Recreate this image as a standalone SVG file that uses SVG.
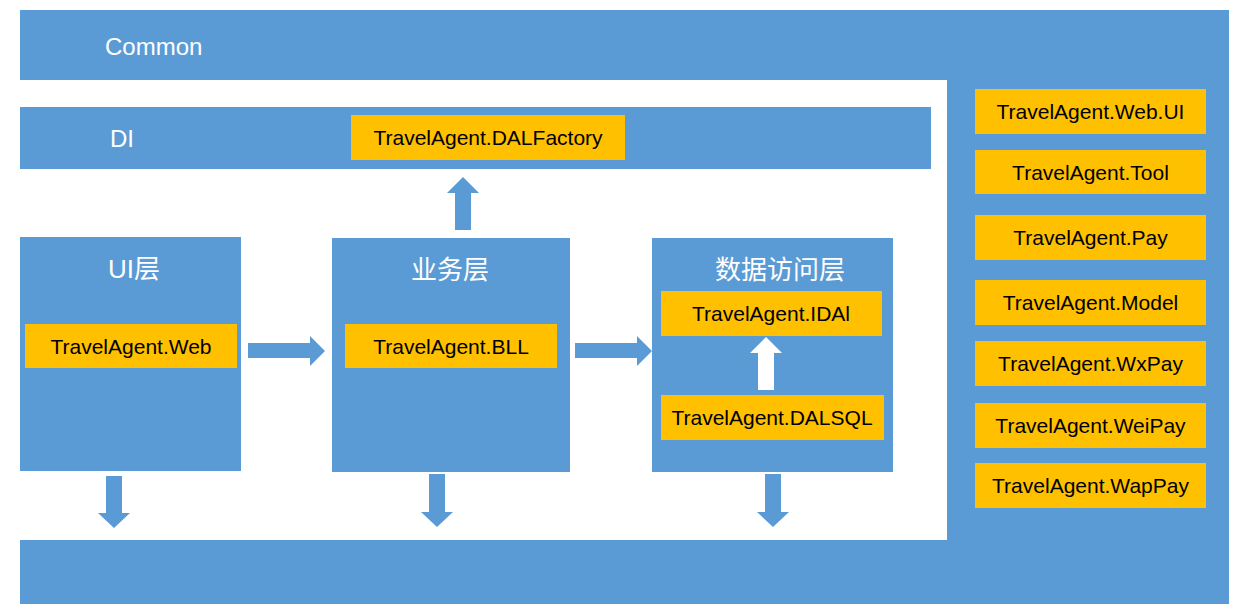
<svg xmlns="http://www.w3.org/2000/svg" width="1247" height="616" viewBox="0 0 1247 616">
<style>
.blue{fill:#5B9BD5}
.yel{fill:#FFC000}
.t{font-family:"Liberation Sans",Arial,sans-serif;font-size:21px;fill:#000;text-anchor:middle}
.w{font-family:"Liberation Sans","Noto Sans CJK SC",sans-serif;font-size:24px;fill:#fff}
.wc{font-family:"Liberation Sans","Noto Sans CJK SC",sans-serif;font-size:26px;fill:#fff;text-anchor:middle}
</style>
<rect width="1247" height="616" fill="#fff"/>
<g id="common">
<path class="blue" d="M20,10 H1229 V604 H20 V540 H947 V80 H20 Z"/>
<text class="w" x="105" y="55">Common</text>
</g>
<g id="di">
<rect class="blue" x="20" y="107" width="911" height="62"/>
<text class="w" x="110" y="147">DI</text>
</g>
<g id="dalfactory">
<rect class="yel" x="351" y="115" width="274" height="45"/>
<text class="t" x="488" y="145">TravelAgent.DALFactory</text>
</g>
<g id="ui-layer">
<rect class="blue" x="20" y="237" width="221" height="234"/>
<text class="wc" x="134" y="278">UI层</text>
</g>
<g id="web">
<rect class="yel" x="25" y="324" width="212" height="44"/>
<text class="t" x="131" y="354">TravelAgent.Web</text>
</g>
<g id="bll-layer">
<rect class="blue" x="332" y="238" width="238" height="234"/>
<text class="wc" x="450" y="279">业务层</text>
</g>
<g id="bll">
<rect class="yel" x="345" y="324" width="212" height="44"/>
<text class="t" x="451" y="354">TravelAgent.BLL</text>
</g>
<g id="dal-layer">
<rect class="blue" x="652" y="238" width="241" height="234"/>
<text class="wc" x="780" y="279">数据访问层</text>
</g>
<g id="idal">
<rect class="yel" x="661" y="291" width="221" height="45"/>
<text class="t" x="771" y="321">TravelAgent.IDAl</text>
</g>
<g id="dalsql">
<rect class="yel" x="661" y="395" width="223" height="45"/>
<text class="t" x="772" y="425">TravelAgent.DALSQL</text>
</g>
<g id="webui">
<rect class="yel" x="975" y="89" width="231" height="45"/>
<text class="t" x="1090.5" y="119">TravelAgent.Web.UI</text>
</g>
<g id="tool">
<rect class="yel" x="975" y="150" width="231" height="44"/>
<text class="t" x="1090.5" y="180">TravelAgent.Tool</text>
</g>
<g id="pay">
<rect class="yel" x="975" y="215" width="231" height="45"/>
<text class="t" x="1090.5" y="245">TravelAgent.Pay</text>
</g>
<g id="model">
<rect class="yel" x="975" y="280" width="231" height="45"/>
<text class="t" x="1090.5" y="310">TravelAgent.Model</text>
</g>
<g id="wxpay">
<rect class="yel" x="975" y="341" width="231" height="45"/>
<text class="t" x="1090.5" y="371">TravelAgent.WxPay</text>
</g>
<g id="weipay">
<rect class="yel" x="975" y="403" width="231" height="45"/>
<text class="t" x="1090.5" y="433">TravelAgent.WeiPay</text>
</g>
<g id="wappay">
<rect class="yel" x="975" y="463" width="231" height="45"/>
<text class="t" x="1090.5" y="493">TravelAgent.WapPay</text>
</g>
<g id="connectors">
<polygon class="blue" points="463,177 479,193 471,193 471,230 455,230 455,193 447,193"/>
<polygon class="blue" points="248,343 310,343 310,336 325,351 310,366 310,358 248,358"/>
<polygon class="blue" points="575,343 637,343 637,336 652,351 637,366 637,358 575,358"/>
<polygon class="blue" points="106,476 122,476 122,513 130,513 114,528 98,513 106,513"/>
<polygon class="blue" points="429,474 445,474 445,512 453,512 437,527 421,512 429,512"/>
<polygon class="blue" points="765,474 781,474 781,512 789,512 773,527 757,512 765,512"/>
<polygon fill="#fff" points="766,337 782,353 774,353 774,390 758,390 758,353 750,353"/>
</g>
</svg>
